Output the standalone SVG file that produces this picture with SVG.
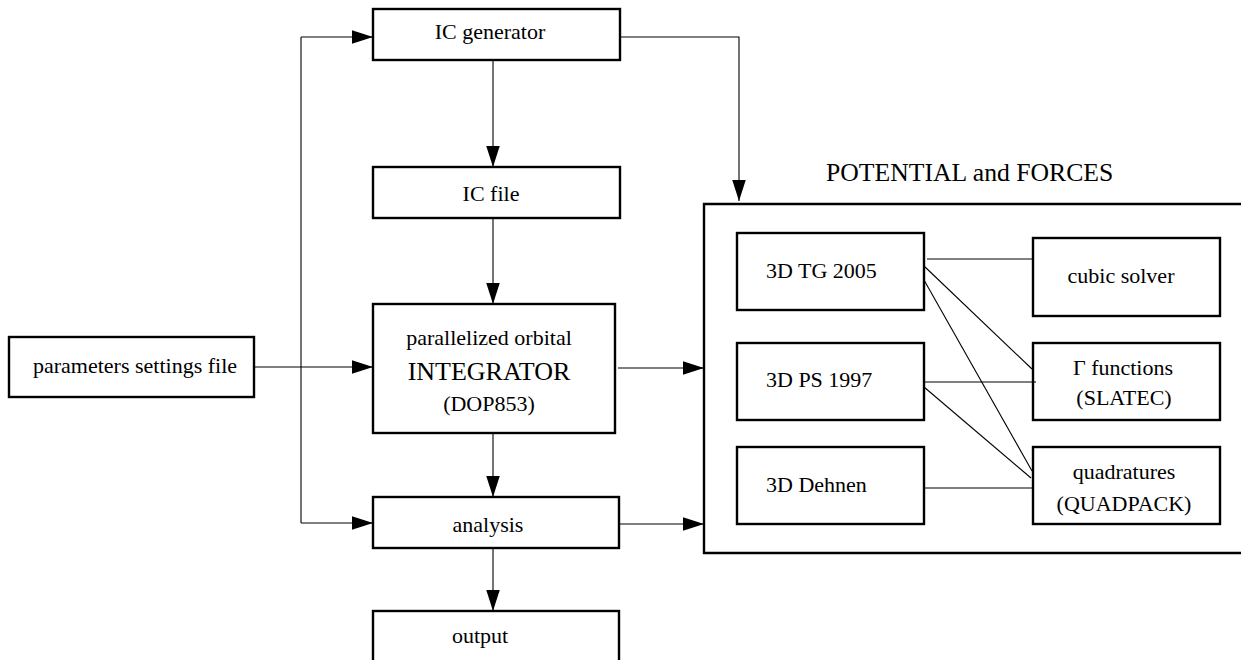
<svg xmlns="http://www.w3.org/2000/svg" width="1241" height="660" viewBox="0 0 1241 660">
<style>
.box{fill:#fff;stroke:#000;stroke-width:2.4}
.con{fill:none;stroke:#000;stroke-width:1.1}
.t{font-family:"Liberation Serif","Times New Roman",serif;font-size:22px;fill:#000}
.c{text-anchor:middle}
</style>
<defs>
<marker id="arr" markerUnits="userSpaceOnUse" markerWidth="22" markerHeight="14" refX="21" refY="6.75" orient="auto">
<path d="M0,0 L21,6.75 L0,13.5 z" fill="#000"/>
</marker>
</defs>
<rect width="1241" height="660" fill="#fff"/>
<g id="connectors">
<path class="con" d="M301,37 V523"/>
<path class="con" d="M301,37 H373" marker-end="url(#arr)"/>
<path class="con" d="M301,523 H373" marker-end="url(#arr)"/>
<path class="con" d="M254,367 H373" marker-end="url(#arr)"/>
<path class="con" d="M493,60 V167" marker-end="url(#arr)"/>
<path class="con" d="M493,218 V304" marker-end="url(#arr)"/>
<path class="con" d="M493,433 V497" marker-end="url(#arr)"/>
<path class="con" d="M493,548 V611" marker-end="url(#arr)"/>
<path class="con" d="M620,37 H739 V201" marker-end="url(#arr)"/>
<path class="con" d="M618,368 H704" marker-end="url(#arr)"/>
<path class="con" d="M619,524 H704" marker-end="url(#arr)"/>
<path class="con" d="M927,259 H1033"/>
<path class="con" d="M924,266 L1032,369"/>
<path class="con" d="M924,280 L1032,471"/>
<path class="con" d="M924,382 H1036"/>
<path class="con" d="M924,387 L1031,478"/>
<path class="con" d="M924,488 H1033"/>
</g>
<g id="params">
<rect class="box" x="9" y="337" width="245" height="60"/>
<text class="t c" x="135" y="373">parameters settings file</text>
</g>
<g id="icgen">
<rect class="box" x="373" y="9" width="247" height="51"/>
<text class="t c" x="490" y="39">IC generator</text>
</g>
<g id="icfile">
<rect class="box" x="373" y="167" width="247" height="51"/>
<text class="t c" x="491" y="201">IC file</text>
</g>
<g id="integrator">
<rect class="box" x="373" y="304" width="242" height="129"/>
<text class="t c" x="489" y="345">parallelized orbital</text>
<text class="t c" x="489" y="380" style="font-size:26px">INTEGRATOR</text>
<text class="t c" x="489" y="411">(DOP853)</text>
</g>
<g id="analysis">
<rect class="box" x="373" y="497" width="246" height="51"/>
<text class="t c" x="488" y="532">analysis</text>
</g>
<g id="output">
<rect class="box" x="373" y="611" width="246" height="55"/>
<text class="t c" x="480" y="643">output</text>
</g>
<g id="potential">
<text class="t" x="826" y="181" style="font-size:25.7px">POTENTIAL and FORCES</text>
<path d="M1245,204 H704 V553 H1245" fill="none" stroke="#000" stroke-width="2.4"/>
</g>
<g id="tg">
<rect class="box" x="737" y="233" width="187" height="77"/>
<text class="t" x="766" y="278">3D TG 2005</text>
</g>
<g id="ps">
<rect class="box" x="737" y="343" width="187" height="77"/>
<text class="t" x="766" y="387">3D PS 1997</text>
</g>
<g id="dehnen">
<rect class="box" x="737" y="447" width="187" height="77"/>
<text class="t" x="766" y="492">3D Dehnen</text>
</g>
<g id="cubic">
<rect class="box" x="1033" y="238" width="187" height="78"/>
<text class="t c" x="1121" y="283">cubic solver</text>
</g>
<g id="gamma">
<rect class="box" x="1033" y="343" width="187" height="77"/>
<text class="t c" x="1123" y="375">Γ functions</text>
<text class="t c" x="1124" y="405">(SLATEC)</text>
</g>
<path class="con" d="M1033,382 H1036"/>
<g id="quad">
<rect class="box" x="1033" y="447" width="187" height="77"/>
<text class="t c" x="1124" y="479">quadratures</text>
<text class="t c" x="1124" y="511">(QUADPACK)</text>
</g>
</svg>
